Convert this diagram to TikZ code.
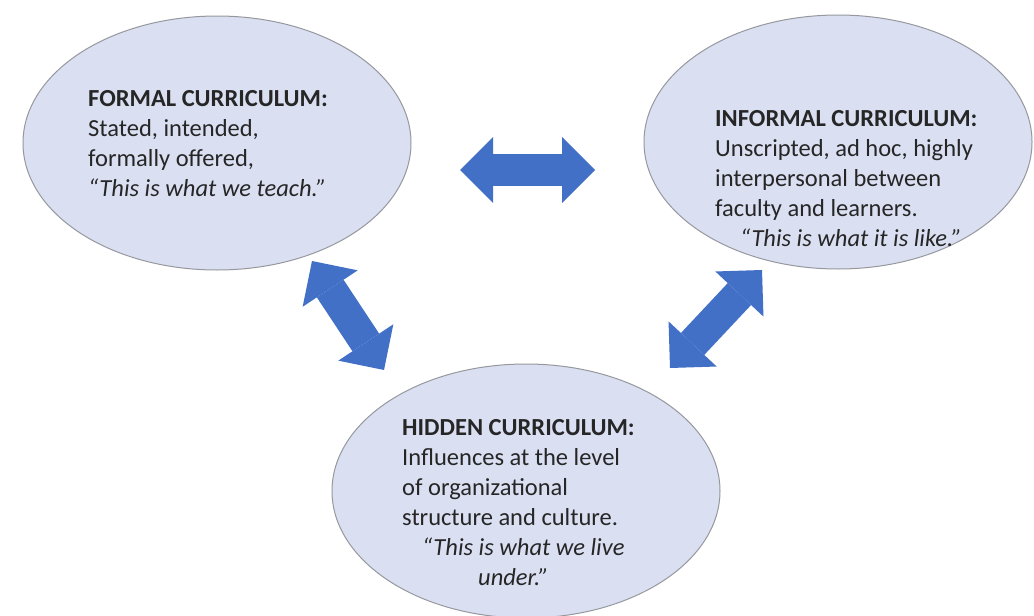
\documentclass[tikz,border=0pt]{standalone}
\usepackage{fontspec}
\setmainfont{Carlito}
\usetikzlibrary{shapes.geometric,arrows.meta}
\definecolor{ellfill}{RGB}{218,224,242}
\definecolor{ellline}{RGB}{150,152,158}
\definecolor{arrblue}{RGB}{66,112,198}
\begin{document}
\begin{tikzpicture}[x=1pt,y=-1pt,
  ell/.style={ellipse, draw=ellline, line width=1pt, fill=ellfill, minimum width=388pt, minimum height=254pt, inner sep=0pt},
  txt/.style={anchor=north west, align=left, inner sep=0pt, font=\fontsize{24.5}{30}\selectfont, text=black!85},
  tipb/.style={Triangle[length=33pt,width=66pt,line width=0pt]},
  dbl/.style={draw=arrblue, line width=32pt, {Triangle[length=33pt,width=66pt,line width=0pt]}-{Triangle[length=33pt,width=66pt,line width=0pt]}}
]
\useasboundingbox (0,0) rectangle (1034,616);
\fill[white] (0,0) rectangle (1034,616);

\node[ell] (formal) at (217,143) {};
\node[ell] (informal) at (838,142) {};
\node[ell] (hidden) at (526,491) {};

\node[txt] (formaltxt) at (88,90) {\textbf{FORMAL CURRICULUM:}\\Stated, intended,\\formally offered,\\\textit{“This is what we teach.”}};
\node[txt] (informaltxt) at (715,110) {\textbf{INFORMAL CURRICULUM:}\\Unscripted, ad hoc, highly\\interpersonal between\\faculty and learners.\\\hspace*{25pt}\textit{“This is what it is like.”}};
\node[txt] (hiddentxt) at (402,419) {\textbf{HIDDEN CURRICULUM:}\\Influences at the level\\of organizational\\structure and culture.\\\hspace*{20pt}\textit{“This is what we live}\\\hspace*{76pt}\textit{under.”}};

\coordinate (h1) at (460,170);
\coordinate (h2) at (595,170);
\coordinate (l1) at (312,261);
\coordinate (l2) at (384,370);
\coordinate (r1) at (670,368);
\coordinate (r2) at (762,270);

\draw[dbl] (h1) -- (h2);
\draw[dbl] (l1) -- (l2);
\draw[dbl] (r1) -- (r2);
\end{tikzpicture}
\end{document}
